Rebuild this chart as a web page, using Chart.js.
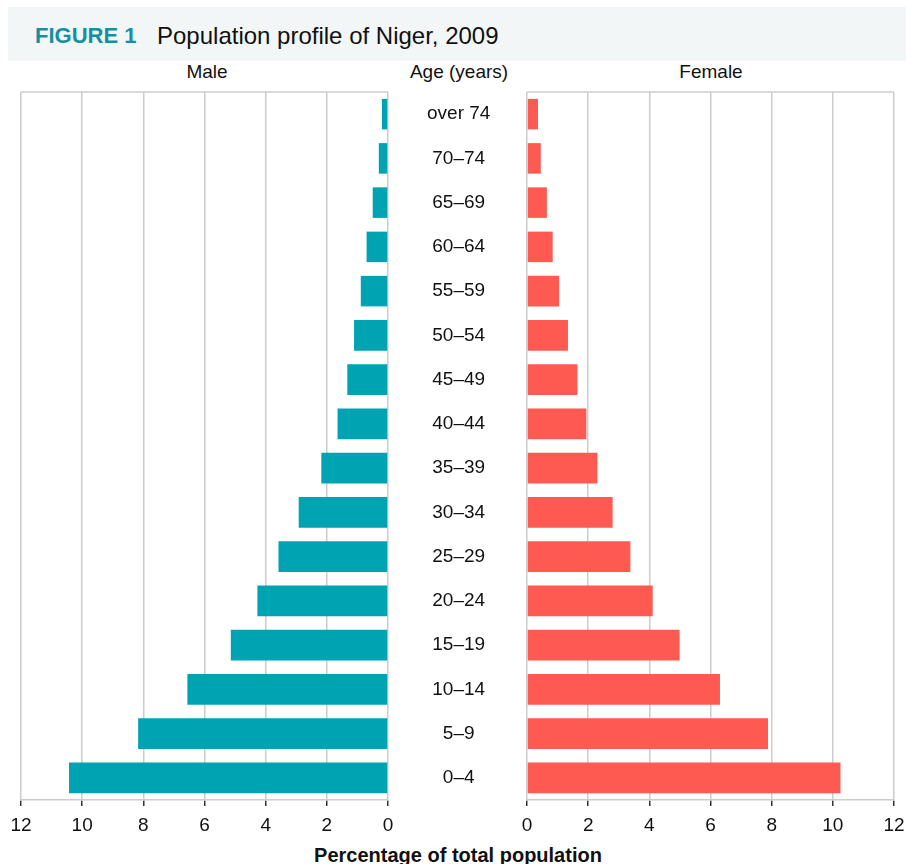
<!DOCTYPE html>
<html>
<head>
<meta charset="utf-8">
<script src="https://cdn.jsdelivr.net/npm/chart.js@4.4.0/dist/chart.umd.min.js"></script>
<style>
  body { margin: 0; background: #fff; font-family: "Liberation Sans", Arial, sans-serif; color: #111; overflow: hidden; }
  .band { position: absolute; left: 8px; top: 7px; width: 898px; height: 54px; background: #f2f6f7; }
  .txt { position: absolute; line-height: 1; white-space: nowrap; }
  .fig { left: 35px; top: 25px; font-size: 22px; font-weight: bold; color: #1590a2; }
  .ttl { left: 157px; top: 24px; font-size: 24px; color: #111; }
  .hdr { top: 62px; font-size: 19px; transform: translateX(-50%); }
  .xlab { left: 458px; top: 845px; font-size: 20px; font-weight: bold; transform: translateX(-50%); }
  .box { position: absolute; top: 85px; height: 755px; }
</style>
</head>
<body>
<div class="band"></div>
<div class="txt fig">FIGURE 1</div>
<div class="txt ttl">Population profile of Niger, 2009</div>
<div class="txt hdr" style="left:207px">Male</div>
<div class="txt hdr" style="left:459px">Age (years)</div>
<div class="txt hdr" style="left:711px">Female</div>
<div class="txt xlab">Percentage of total population</div>

<div class="box" style="left:0; width:527px"><canvas id="maleChart"></canvas></div>
<div class="box" style="left:507px; width:399px"><canvas id="femaleChart"></canvas></div>

<script>
// Age groups, oldest at the top
const ageGroups = ['over 74', '70–74', '65–69', '60–64', '55–59', '50–54', '45–49', '40–44',
                   '35–39', '30–34', '25–29', '20–24', '15–19', '10–14', '5–9', '0–4'];

// Share of total population (%)
const malePct   = [0.2, 0.3, 0.5, 0.7, 0.89, 1.11, 1.33, 1.65, 2.18, 2.92, 3.58, 4.27, 5.14, 6.56, 8.17, 10.43];
const femalePct = [0.36, 0.45, 0.65, 0.84, 1.05, 1.34, 1.65, 1.94, 2.3, 2.8, 3.38, 4.11, 4.99, 6.31, 7.88, 10.25];

const xTicks = [0, 2, 4, 6, 8, 10, 12];

const FONT = '"Liberation Sans", Arial, sans-serif';

// line along the top of the plot area
const topLine = {
    id: 'topLine',
    afterDraw(chart) {
        const { ctx, chartArea } = chart;
        ctx.save();
        ctx.strokeStyle = '#cccccc';
        ctx.lineWidth = 1.5;
        ctx.beginPath();
        ctx.moveTo(chartArea.left, chartArea.top);
        ctx.lineTo(chartArea.right, chartArea.top);
        ctx.stroke();
        ctx.restore();
    }
};

function xScale(reverse) {
    return {
        type: 'linear',
        reverse: reverse,
        min: 0,
        max: 12,
        afterBuildTicks: scale => { scale.ticks = xTicks.map(v => ({ value: v })); },
        // fixed height, and the layout padding already leaves room for the end labels
        afterFit: scale => {
            scale.height = 40;
            scale.paddingLeft = 0;
            scale.paddingRight = 0;
        },
        grid: {
            color: '#cccccc',
            lineWidth: 1.5,
            tickColor: '#333333',
            tickLength: 6
        },
        border: { color: '#cccccc', width: 1.5 },
        ticks: {
            padding: 8,
            color: '#111',
            font: { family: FONT, size: 19 }
        }
    };
}

// Male side, axis reversed so bars grow to the left
new Chart(document.getElementById('maleChart').getContext('2d'), {
    type: 'bar',
    data: {
        labels: ageGroups,
        datasets: [{
            label: 'Male',
            data: malePct,
            backgroundColor: '#00a3b1',
            borderWidth: 0,
            barPercentage: 0.69,
            categoryPercentage: 1
        }]
    },
    options: {
        indexAxis: 'y',
        responsive: true,
        maintainAspectRatio: false,
        animation: false,
        layout: { padding: { left: 21, top: 7, right: 0, bottom: 0 } },
        plugins: { legend: { display: false }, tooltip: { enabled: false } },
        scales: {
            x: xScale(true),
            y: {
                position: 'right',
                // age labels sit in the gap between the two halves
                afterFit: scale => {
                    scale.width = 139;
                    scale.paddingTop = 0;
                    scale.paddingBottom = 0;
                },
                grid: { display: false, drawTicks: false },
                border: { display: false },
                ticks: {
                    crossAlign: 'center',
                    padding: 39,
                    color: '#111',
                    font: { family: FONT, size: 19 }
                }
            }
        }
    },
    plugins: [topLine]
});

// Female side
new Chart(document.getElementById('femaleChart').getContext('2d'), {
    type: 'bar',
    data: {
        labels: ageGroups,
        datasets: [{
            label: 'Female',
            data: femalePct,
            backgroundColor: '#ff5a52',
            borderWidth: 0,
            barPercentage: 0.69,
            categoryPercentage: 1
        }]
    },
    options: {
        indexAxis: 'y',
        responsive: true,
        maintainAspectRatio: false,
        animation: false,
        layout: { padding: { left: 20, top: 7, right: 12, bottom: 0 } },
        plugins: { legend: { display: false }, tooltip: { enabled: false } },
        scales: {
            x: xScale(false),
            y: { display: false }
        }
    },
    plugins: [topLine]
});
</script>
</body>
</html>
